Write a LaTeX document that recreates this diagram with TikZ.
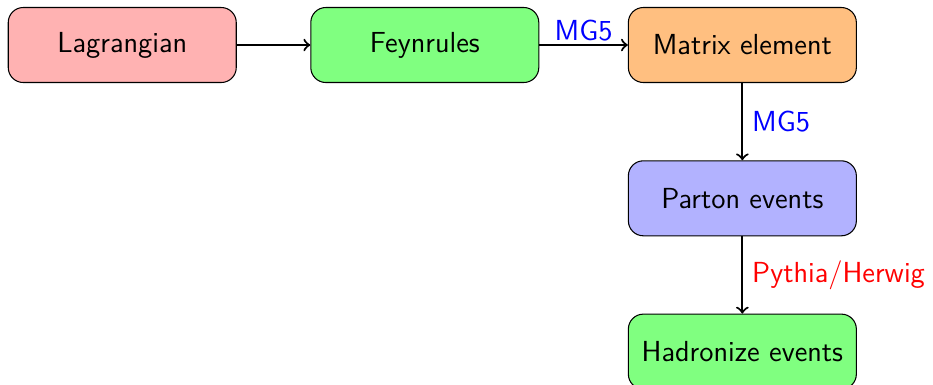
\documentclass[tikz,border=0pt]{standalone}
\usetikzlibrary{positioning}

\begin{document}
\begin{tikzpicture}[x=1cm,y=1cm]
\tikzset{
  stagebox/.style={rectangle,rounded corners=2mm,draw,minimum width=3.04cm,minimum height=1cm,font=\fontsize{11}{13}\selectfont\sffamily},
  flow/.style={->,thick},
  toollabel/.style={font=\fontsize{11}{13}\selectfont\sffamily}
}
\useasboundingbox (0,0) rectangle (12.44,-5.13);
\node[stagebox,fill=red!30] (n_Lag) at (1.63,-0.60) {Lagrangian};
\node[stagebox,fill=green!50,right=0.98cm of n_Lag] (n_Feyn) {Feynrules};
\node[stagebox,fill=orange!50,right=1.18cm of n_Feyn] (n_ME) {Matrix element};
\node[stagebox,fill=blue!30,below=1.03cm of n_ME] (n_Parton) {Parton events};
\node[stagebox,fill=green!50,below=1.03cm of n_Parton] (n_Hadr) {Hadronize events};
\draw[flow] (n_Lag) -- (n_Feyn);
\draw[flow] (n_Feyn) -- node[toollabel,above,text=blue,inner sep=1pt] {MG5} (n_ME);
\draw[flow] (n_ME) -- node[toollabel,right,text=blue] {MG5} (n_Parton);
\draw[flow] (n_Parton) -- node[toollabel,right,text=red] {Pythia/Herwig} (n_Hadr);
\end{tikzpicture}
\end{document}
